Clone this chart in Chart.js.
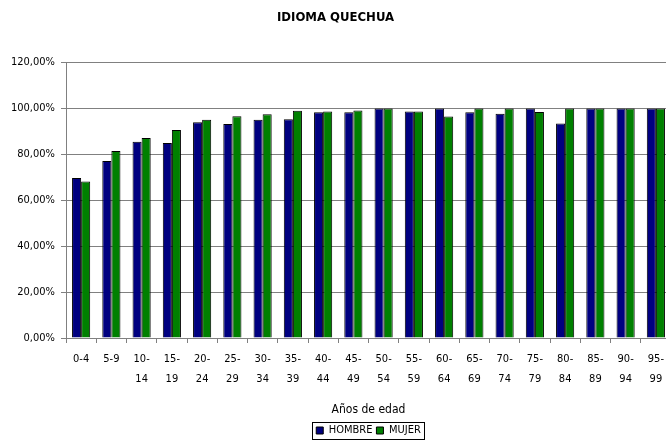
<!DOCTYPE html>
<html lang="es">
<head>
    <meta charset="UTF-8">
    <title>Idioma Quechua</title>
    <script src="https://cdn.jsdelivr.net/npm/chart.js"></script>
    <style>
        html, body { margin: 0; padding: 0; overflow: hidden; background: #fff; }
        #wrap { width: 672px; height: 446px; }
    </style>
</head>
<body>
    <div id="wrap"><canvas id="quechuaChart" width="672" height="446"></canvas></div>

    <script>
        // Age groups (x axis)
        const ageGroups = [
            ["0-4"], ["5-9"], ["10-", "14"], ["15-", "19"], ["20-", "24"],
            ["25-", "29"], ["30-", "34"], ["35-", "39"], ["40-", "44"], ["45-", "49"],
            ["50-", "54"], ["55-", "59"], ["60-", "64"], ["65-", "69"], ["70-", "74"],
            ["75-", "79"], ["80-", "84"], ["85-", "89"], ["90-", "94"], ["95-", "99"]
        ];

        // Percentages
        const hombre = [69.7, 77.1, 85.5, 85.0, 94.0, 93.2, 95.1, 95.3, 98.4, 98.4,
                        100, 98.7, 100, 98.4, 97.7, 100, 93.5, 100, 100, 100];
        const mujer  = [68.2, 81.5, 87.2, 90.6, 95.1, 96.6, 97.5, 99.0, 98.7, 99.1,
                        100, 98.7, 96.5, 100, 100, 98.5, 100, 100, 100, 100];

        const yTicks = [0, 20, 40, 60, 80, 100, 120];

        const fontFamily = "'DejaVu Sans Condensed', 'DejaVu Sans', sans-serif";

        // draw a thin frame around the legend items
        const legendFrame = {
            id: "legendFrame",
            afterDraw(chart) {
                const boxes = chart.legend.legendHitBoxes;
                if (!boxes || !boxes.length) return;
                let left = Math.min(...boxes.map(b => b.left)) - 4;
                let right = Math.max(...boxes.map(b => b.left + b.width)) + 3;
                let top = Math.min(...boxes.map(b => b.top)) - 3;
                let bottom = Math.max(...boxes.map(b => b.top + b.height)) + 3;
                const ctx = chart.ctx;
                ctx.save();
                ctx.strokeStyle = "#000";
                ctx.lineWidth = 1;
                ctx.strokeRect(Math.round(left) + 0.5, Math.round(top) + 0.5,
                               Math.round(right - left), Math.round(bottom - top));
                ctx.restore();
            }
        };

        const ctx = document.getElementById("quechuaChart").getContext("2d");
        new Chart(ctx, {
            type: "bar",
            data: {
                labels: ageGroups,
                datasets: [
                    {
                        label: "HOMBRE",
                        data: hombre,
                        backgroundColor: "#000080",
                        borderColor: "#000000",
                        borderWidth: 1
                    },
                    {
                        label: "MUJER",
                        data: mujer,
                        backgroundColor: "#008000",
                        borderColor: "#000000",
                        borderWidth: 1
                    }
                ]
            },
            options: {
                responsive: false,
                animation: false,
                datasets: {
                    bar: { categoryPercentage: 0.6, barPercentage: 1.0 }
                },
                layout: { padding: { left: 0, right: 1, bottom: 0 } },
                plugins: {
                    title: {
                        display: true,
                        text: "IDIOMA QUECHUA",
                        color: "#000",
                        font: { family: fontFamily, size: 13, weight: "bold" },
                        padding: { top: 10, bottom: 37 }
                    },
                    legend: {
                        position: "bottom",
                        fullSize: false,
                        labels: {
                            color: "#000",
                            boxWidth: 7,
                            boxHeight: 7,
                            padding: 4,
                            font: { family: fontFamily, size: 11 }
                        }
                    },
                    tooltip: { enabled: false }
                },
                scales: {
                    x: {
                        grid: {
                            offset: true,
                            drawOnChartArea: false,
                            drawTicks: true,
                            tickLength: 5,
                            color: "#808080"
                        },
                        border: { color: "#808080" },
                        ticks: {
                            color: "#000",
                            maxRotation: 0,
                            autoSkip: false,
                            padding: 6,
                            font: { family: fontFamily, size: 11, lineHeight: 1.8 }
                        },
                        title: {
                            display: true,
                            text: "Años de edad",
                            color: "#000",
                            font: { family: fontFamily, size: 12 },
                            padding: { top: 8, bottom: 4 }
                        }
                    },
                    y: {
                        min: yTicks[0],
                        max: yTicks[yTicks.length - 1],
                        afterBuildTicks(axis) {
                            axis.ticks = yTicks.map(v => ({ value: v }));
                        },
                        afterFit(axis) {
                            axis.width = 66;
                        },
                        grid: {
                            color: "#808080",
                            tickLength: 5
                        },
                        border: { color: "#808080" },
                        ticks: {
                            color: "#000",
                            padding: 6,
                            font: { family: fontFamily, size: 11 },
                            callback: v => v.toFixed(2).replace(".", ",") + "%"
                        }
                    }
                }
            },
            plugins: [legendFrame]
        });
    </script>
</body>
</html>
